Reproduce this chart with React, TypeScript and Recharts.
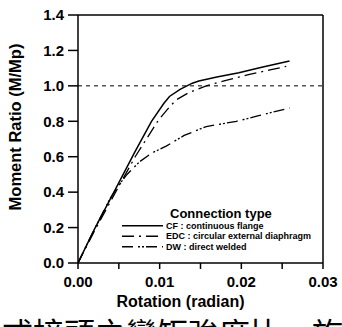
import React from 'react';
import { LineChart, Line, XAxis, YAxis, ReferenceLine } from 'recharts';

const rotationCF = [0, 0.002, 0.0044, 0.007, 0.009, 0.0105, 0.0112, 0.0125, 0.014, 0.0148, 0.017, 0.0197, 0.0225, 0.0259];
const momentCF = [0, 0.19, 0.4, 0.63, 0.8, 0.9, 0.94, 0.98, 1.015, 1.027, 1.05, 1.074, 1.105, 1.14];

const rotationEDC = [0, 0.002, 0.0046, 0.007, 0.0099, 0.011, 0.012, 0.0135, 0.0157, 0.018, 0.021, 0.0235, 0.0255];
const momentEDC = [0, 0.18, 0.4, 0.6, 0.81, 0.87, 0.92, 0.96, 1.0, 1.03, 1.065, 1.09, 1.11];

const rotationDW = [0, 0.002, 0.004, 0.005, 0.006, 0.0075, 0.009, 0.0108, 0.013, 0.0157, 0.0194, 0.022, 0.0259];
const momentDW = [0, 0.19, 0.37, 0.44, 0.5, 0.57, 0.62, 0.66, 0.72, 0.77, 0.8, 0.83, 0.875];

const xTicks = [0, 0.005, 0.01, 0.015, 0.02, 0.025, 0.03];
const yTicks = [0, 0.2, 0.4, 0.6, 0.8, 1.0, 1.2, 1.4];

const xLabel = 'Rotation (radian)';
const yLabel = 'Moment Ratio (M/Mp)';
const legendTitle = 'Connection type';
const legendLabels = ['CF : continuous flange', 'EDC : circular external diaphragm', 'DW : direct welded'];
const caption = '式接頭之彎矩強度比－旋轉角關係圖';

const toPoints = (xs: number[], ys: number[]) => xs.map((x, i) => ({ x, y: ys[i] }));
const cfData = toPoints(rotationCF, momentCF);
const edcData = toPoints(rotationEDC, momentEDC);
const dwData = toPoints(rotationDW, momentDW);

const FONT = '"Liberation Sans", Arial, sans-serif';
const EDC_DASH = '12 5 2 5';
const DW_DASH = '11 5 2 2 2 2';
const dashes = [undefined, EDC_DASH, DW_DASH];

export default function App() {
  return (
    <div style={{ position: 'absolute', left: 0, top: 0, width: 342, height: 327, background: '#fff', overflow: 'hidden' }}>
      <LineChart width={342} height={327} margin={{ top: 15, right: 19, left: 0, bottom: 0 }}>
        <XAxis
          type="number"
          dataKey="x"
          domain={[0, 0.03]}
          ticks={xTicks}
          interval={0}
          allowDataOverflow
          height={64}
          tickSize={6}
          tickMargin={7}
          stroke="#000"
          strokeWidth={1.5}
          tick={{ fill: '#000', fontSize: 15, fontWeight: 'bold', fontFamily: FONT }}
          tickFormatter={(v: number) => (Math.abs(v * 100 - Math.round(v * 100)) < 1e-6 ? v.toFixed(2) : '')}
          label={{ value: xLabel, position: 'insideBottom', offset: 20, dx: -20, fill: '#000', fontSize: 16, fontWeight: 'bold', fontFamily: FONT }}
        />
        <YAxis
          type="number"
          dataKey="y"
          domain={[0, 1.4]}
          ticks={yTicks}
          interval={0}
          width={78}
          tickSize={10}
          tickMargin={4}
          stroke="#000"
          strokeWidth={1.5}
          tick={{ fill: '#000', fontSize: 15, fontWeight: 'bold', fontFamily: FONT }}
          tickFormatter={(v: number) => v.toFixed(1)}
        />
        <ReferenceLine y={1.4} stroke="#000" strokeWidth={1.5} />
        <ReferenceLine x={0.03} stroke="#000" strokeWidth={1.5} />
        <ReferenceLine y={1.0} stroke="#000" strokeWidth={1} strokeDasharray="4 4" />
        <Line data={cfData} dataKey="y" type="linear" stroke="#000" strokeWidth={1.5} dot={false} isAnimationActive={false} />
        <Line data={edcData} dataKey="y" type="linear" stroke="#000" strokeWidth={1.3} strokeDasharray={EDC_DASH} dot={false} isAnimationActive={false} />
        <Line data={dwData} dataKey="y" type="linear" stroke="#000" strokeWidth={1.3} strokeDasharray={DW_DASH} dot={false} isAnimationActive={false} />
      </LineChart>
      <svg width={342} height={327} style={{ position: 'absolute', left: 0, top: 0, pointerEvents: 'none' }}>
        <text x={21} y={127} transform="rotate(-90, 21, 127)" textAnchor="middle" fontFamily={FONT} fontWeight="bold" fontSize={16.5} fill="#000">{yLabel}</text>
        <text x={170} y={217.5} fontFamily={FONT} fontWeight="bold" fontSize={13} fill="#000">{legendTitle}</text>
        {legendLabels.map((label, i) => (
          <g key={label}>
            <line x1={122} x2={163} y1={225.7 + i * 10.5} y2={225.7 + i * 10.5} stroke="#000" strokeWidth={1.4} strokeDasharray={dashes[i]} />
            <text x={166} y={228.8 + i * 10.5} fontFamily={FONT} fontWeight="bold" fontSize={9} fill="#000">{label}</text>
          </g>
        ))}
        <text x={2} y={345} fontFamily={'"Noto Sans CJK TC", "Noto Sans CJK SC", sans-serif'} fontSize={31} fill="#000">{caption}</text>
      </svg>
    </div>
  );
}
